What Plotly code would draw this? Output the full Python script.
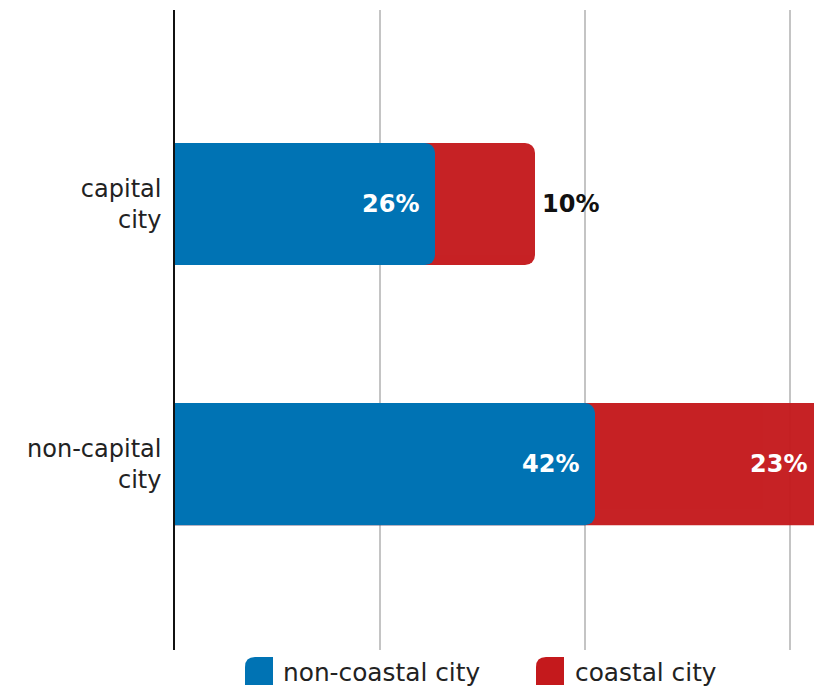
import plotly.graph_objects as go

# Share of respondents by city type
categories = ["capital<br>city", "non-capital<br>city"]
non_coastal = [26, 42]
coastal = [10, 23]
series_names = ["non-coastal city", "coastal city"]

BLUE = "#0073b4"
RED = "#c4191c"
FONT = "DejaVu Sans"

X_MAX = 63.9
Y_RANGE = [1.715, -0.746]
BAR_W = 0.47
W, H = 814, 689
ML, MR, MT, MB = 175, 0, 10, 39

totals = [a + b for a, b in zip(non_coastal, coastal)]

fig = go.Figure()

# coastal share drawn as the full stack length; non-coastal sits on an
# overlaid y axis so both bar ends keep their own rounded corners
fig.add_trace(go.Bar(
    y=categories, x=totals, orientation="h", name=series_names[1],
    marker=dict(color=RED, cornerradius=10, line=dict(width=0)),
    opacity=0.96, width=BAR_W, hoverinfo="skip", showlegend=False,
))
fig.add_trace(go.Bar(
    y=categories, x=non_coastal, orientation="h", name=series_names[0],
    marker=dict(color=BLUE, cornerradius=10, line=dict(width=0)),
    width=BAR_W, hoverinfo="skip", showlegend=False, yaxis="y2",
))

annotations = []
label_font = dict(family=FONT, size=24, color="white", weight="bold")
for cat, nc, c, tot in zip(categories, non_coastal, coastal, totals):
    annotations.append(dict(
        x=nc, y=cat, xref="x", yref="y", text=f"{nc}%", showarrow=False,
        xanchor="right", xshift=-14, font=label_font,
    ))
    if tot + 7 < X_MAX:
        annotations.append(dict(
            x=tot, y=cat, xref="x", yref="y", text=f"{c}%", showarrow=False,
            xanchor="left", xshift=5, font=dict(label_font, color="#111111"),
        ))
    else:
        annotations.append(dict(
            x=X_MAX, y=cat, xref="x", yref="y", text=f"{c}%", showarrow=False,
            xanchor="right", xshift=-5, font=label_font,
        ))

# legend: rounded swatches with labels below the plot
plot_w = W - ML - MR
plot_h = H - MT - MB
legend_items = [(series_names[0], BLUE, 245, 281), (series_names[1], RED, 536, 573)]
shapes = []
for name, color, sx, tx in legend_items:
    x0 = sx - ML
    x1 = x0 + 28
    top, bot = -7, -35
    path = (f"M {x0},{bot} L {x0},{top - 10} Q {x0},{top} {x0 + 10},{top} "
            f"L {x1},{top} L {x1},{bot} Z")
    shapes.append(dict(
        type="path", xref="paper", yref="paper", xsizemode="pixel", ysizemode="pixel",
        xanchor=0, yanchor=0, path=path, fillcolor=color, line=dict(width=0),
    ))
    annotations.append(dict(
        x=(tx - ML) / plot_w, y=-22 / plot_h, xref="paper", yref="paper",
        text=name, showarrow=False, xanchor="left", yanchor="middle",
        font=dict(family=FONT, size=24.8, color="#222222"),
    ))

fig.update_layout(
    width=W, height=H,
    margin=dict(l=ML, r=MR, t=MT, b=MB, pad=0),
    barmode="overlay",
    plot_bgcolor="white", paper_bgcolor="white",
    showlegend=False,
    annotations=annotations,
    shapes=shapes,
    font=dict(family=FONT, color="#222222"),
    xaxis=dict(
        range=[0, X_MAX], tick0=0, dtick=20.5, showticklabels=False,
        showgrid=True, gridcolor="#c4c4c4", gridwidth=1.5,
        zeroline=False, showline=False, fixedrange=True,
    ),
    yaxis=dict(
        type="category", categoryarray=categories,
        range=Y_RANGE, showgrid=False, zeroline=False,
        showline=True, linecolor="#111111", linewidth=1.5,
        ticks="", ticklabelstandoff=7,
        tickfont=dict(family=FONT, size=24, color="#222222"),
        fixedrange=True,
    ),
    yaxis2=dict(
        type="category", categoryarray=categories,
        overlaying="y", range=Y_RANGE, showgrid=False, zeroline=False,
        showline=False, showticklabels=False, ticks="", fixedrange=True,
    ),
)

fig.write_html("out.html", config={"displayModeBar": False})
